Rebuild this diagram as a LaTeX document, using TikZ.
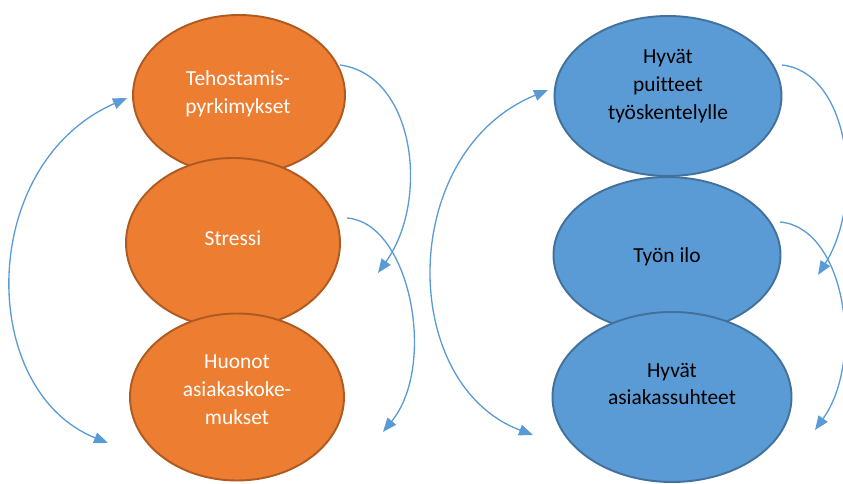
\documentclass[tikz,border=0pt]{standalone}
\usepackage{fontspec}
\setmainfont[Ligatures={NoCommon,NoContextual}]{Carlito}
\usetikzlibrary{shapes.geometric,arrows.meta}
\definecolor{orangefill}{HTML}{ED7D31}
\definecolor{orangeline}{HTML}{AE5A21}
\definecolor{bluefill}{HTML}{5B9BD5}
\definecolor{blueline}{HTML}{41719C}
\definecolor{loopblue}{HTML}{5B9BD5}

\begin{document}
\begin{tikzpicture}[
  blob/.style={ellipse, draw, line width=1.1pt},
  badblob/.style={blob, fill=orangefill, draw=orangeline},
  goodblob/.style={blob, fill=bluefill, draw=blueline},
  txt/.style={align=center, font=\fontsize{12.2}{15.9}\selectfont},
  loop/.style={draw=loopblue, line width=0.75pt},
  >={Triangle[length=0.28cm,width=0.22cm]}
]
\useasboundingbox (0,0) rectangle (16.86,-9.68);

% vicious circle
\node[badblob, minimum width=4.24cm, minimum height=3.2cm] (teh) at (4.78,-1.90) {};
\node[txt, text=white] (teht) at (4.76,-1.88) {Tehostamis-\\pyrkimykset};
\node[badblob, minimum width=4.28cm, minimum height=3.4cm] (str) at (4.66,-4.86) {};
\node[txt, text=white] (strt) at (4.66,-4.76) {Stressi};
\node[badblob, minimum width=4.28cm, minimum height=3.34cm] (huo) at (4.74,-7.94) {};
\node[txt, text=white] (huot) at (4.74,-7.80) {Huonot\\asiakaskoke-\\mukset};

% virtuous circle
\node[goodblob, minimum width=4.54cm, minimum height=3.2cm] (puit) at (13.36,-1.92) {};
\node[txt] (puitt) at (13.36,-1.72) {Hyvät\\puitteet\\työskentelylle};
\node[goodblob, minimum width=4.54cm, minimum height=3.12cm] (ilo) at (13.34,-5.10) {};
\node[txt] (ilot) at (13.34,-5.14) {Työn ilo};
\node[goodblob, minimum width=4.78cm, minimum height=3.4cm] (suht) at (13.44,-7.94) {};
\node[txt] (suhtt) at (13.44,-7.68) {Hyvät\\asiakassuhteet};

% loop ends
\coordinate (teh-in) at (2.54,-1.96);
\coordinate (huo-in) at (2.16,-8.86);
\coordinate (teh-out) at (6.80,-1.30);
\coordinate (str-in) at (7.56,-5.46);
\coordinate (str-out) at (6.94,-4.36);
\coordinate (huo-in2) at (7.66,-8.64);
\coordinate (puit-in) at (10.96,-1.80);
\coordinate (suht-in) at (10.66,-8.70);
\coordinate (puit-out) at (15.64,-1.30);
\coordinate (ilo-in) at (16.36,-5.50);
\coordinate (ilo-out) at (15.60,-4.44);
\coordinate (suht-in2) at (16.30,-8.60);

\draw[loop,<->] (teh-in) .. controls (-0.46,-3.28) and (-0.46,-7.81) .. (huo-in);
\draw[loop,->] (teh-out) .. controls (8.3,-1.5) and (8.6,-4.0) .. (str-in);
\draw[loop,->] (str-out) .. controls (8.2,-4.45) and (8.75,-7.3) .. (huo-in2);
\draw[loop,<->] (puit-in) .. controls (7.95,-3.03) and (7.95,-7.68) .. (suht-in);
\draw[loop,->] (puit-out) .. controls (17.0,-1.45) and (17.3,-4.0) .. (ilo-in);
\draw[loop,->] (ilo-out) .. controls (16.9,-4.55) and (17.3,-7.2) .. (suht-in2);
\end{tikzpicture}
\end{document}
